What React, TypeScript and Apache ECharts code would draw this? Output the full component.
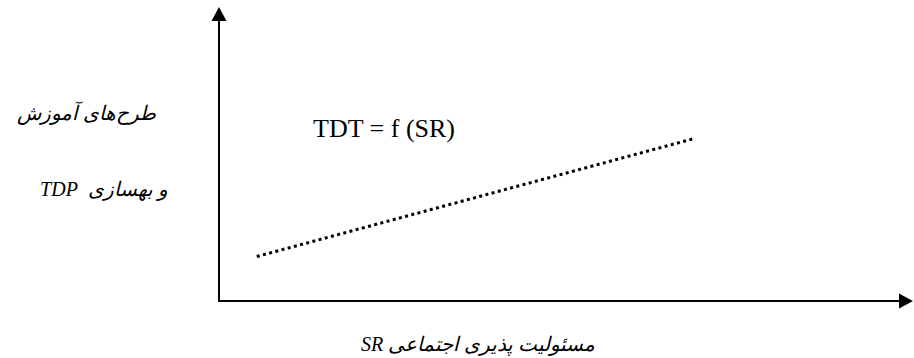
import React, { useEffect, useRef } from "react";
import * as echarts from "echarts";

// Data: the dotted relation line TDT = f(SR), two end points
const srValues = [0.55, 6.9];
const tdtValues = [1.55, 5.65];
const axisMin = 0;
const axisMax = 10;

// Texts
const functionLabel = "TDT = f (SR)";
const yLabelLine1 = "طرح‌های آموزش";
const yLabelLine2 = "و بهسازی  TDP";
const xLabel = "مسئولیت پذیری اجتماعی SR";

const LATIN = "Liberation Serif, Times New Roman, serif";
const MIXED = "Liberation Serif, DejaVu Sans, serif";

export default function App() {
  const ref = useRef<HTMLDivElement>(null);

  useEffect(() => {
    const el = ref.current;
    if (!el) return;
    const chart = echarts.init(el, undefined, { renderer: "svg" });

    const axisCommon = {
      type: "value" as const,
      min: axisMin,
      max: axisMax,
      axisLine: {
        show: true,
        onZero: false,
        symbol: ["none", "triangle"],
        symbolSize: [15, 14],
        lineStyle: { color: "#000", width: 2, cap: "square" },
      },
      axisTick: { show: false },
      axisLabel: { show: false },
      splitLine: { show: false },
    };

    const textStyle = (text: string, family: string, size: number, italic: boolean, align: string) => ({
      text,
      fill: "#000",
      font: `${italic ? "italic " : ""}${size}px ${family}`,
      textAlign: align,
      textVerticalAlign: "middle",
      align,
      verticalAlign: "middle",
    });

    chart.setOption({
      animation: false,
      backgroundColor: "#ffffff",
      grid: { left: 219, right: 8, top: 14, bottom: 57, containLabel: false },
      xAxis: axisCommon,
      yAxis: axisCommon,
      series: [
        {
          type: "line",
          data: srValues.map((x, i) => [x, tdtValues[i]]),
          symbol: "none",
          silent: true,
          lineStyle: { color: "#000", width: 3, type: [3, 3.4], cap: "butt" },
        },
      ],
      graphic: [
        { type: "text", x: 313, y: 128, silent: true, style: textStyle(functionLabel, LATIN, 26, false, "left") },
        { type: "text", x: 86, y: 113, silent: true, style: textStyle(yLabelLine1, MIXED, 20, true, "center") },
        { type: "text", x: 104, y: 189, silent: true, style: textStyle(yLabelLine2, MIXED, 20, true, "center") },
        { type: "text", x: 478, y: 344, silent: true, style: textStyle(xLabel, MIXED, 20, true, "center") },
      ],
    });

    const fixDirection = () => {
      el.querySelectorAll("text").forEach((t) => {
        if (/[\u0600-\u06FF]/.test(t.textContent || "")) {
          t.setAttribute("direction", "rtl");
          (t as SVGTextElement).style.direction = "rtl";
        }
      });
    };
    fixDirection();
    chart.on("finished", fixDirection);

    return () => {
      chart.dispose();
    };
  }, []);

  return (
    <div
      ref={ref}
      style={{ position: "fixed", left: 0, top: 0, width: 914, height: 358, background: "#fff" }}
    />
  );
}
